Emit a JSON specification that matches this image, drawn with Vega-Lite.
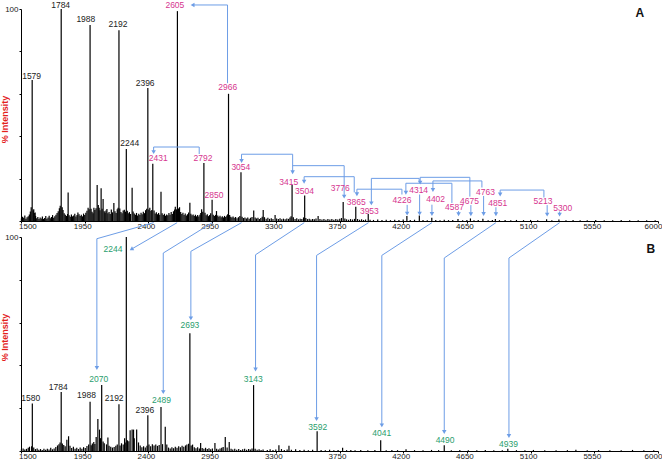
{
  "$schema": "https://vega.github.io/schema/vega-lite/v6.json",
  "padding": {"left": 0, "top": 0, "right": 0, "bottom": 0},
  "spacing": 16,
  "bounds": "flush",
  "config": {
    "view": {"stroke": null},
    "axis": {"grid": false, "domainColor": "#000", "tickColor": "#000", "labelColor": "#222", "labelFont": "Liberation Sans", "titleFont": "Liberation Sans", "labelFontSize": 8, "tickSize": 2, "labelPadding": 1},
    "text": {"font": "Liberation Sans"}
  },
  "datasets": {
    "specA": [
      {"m":1579,"i":66.5},{"m":1784,"i":100},{"m":1988,"i":92.5},{"m":2192,"i":90},{"m":2244,"i":34},{"m":2396,"i":62.7},{"m":2431,"i":27},{"m":2605,"i":99},{"m":2792,"i":27.4},{"m":2850,"i":10},{"m":2966,"i":60},{"m":3054,"i":23},{"m":3415,"i":17},{"m":3504,"i":12},{"m":3776,"i":9},{"m":3865,"i":6.7},{"m":3953,"i":3.3},{"m":4226,"i":2.4},{"m":4314,"i":2.6},{"m":4402,"i":1.5},{"m":4587,"i":1},{"m":4675,"i":1.2},{"m":4763,"i":1.1},{"m":4851,"i":1},{"m":5213,"i":0.8},{"m":5300,"i":0.7},
      {"m":1572,"i":6.5},{"m":1590,"i":5.5},{"m":1600,"i":4},{"m":1833,"i":13.5},{"m":1902,"i":4},{"m":2015,"i":6.3},{"m":2038,"i":17},{"m":2066,"i":15.4},{"m":2080,"i":10.4},{"m":2107,"i":5.7},{"m":2156,"i":8.5},{"m":2285,"i":15.7},{"m":2489,"i":13.8},{"m":2590,"i":6.7},{"m":2620,"i":6.5},{"m":2693,"i":8.6},{"m":2776,"i":5.6},{"m":2881,"i":4.7},{"m":3144,"i":4.9},{"m":3211,"i":5.2},{"m":3295,"i":2.8},{"m":3599,"i":2.4},
      {"m":1503,"i":1.2},{"m":1511,"i":2.0},{"m":1519,"i":1.5},{"m":1527,"i":2.6},{"m":1535,"i":1.1},{"m":1543,"i":1.8},{"m":1551,"i":2.2},{"m":1559,"i":3.1},{"m":1566,"i":4.5},{"m":1586,"i":5.0},{"m":1594,"i":3.8},{"m":1603,"i":2.4},{"m":1611,"i":1.3},{"m":1619,"i":1.9},{"m":1627,"i":0.9},{"m":1635,"i":1.6},{"m":1643,"i":1.2},{"m":1651,"i":2.1},{"m":1659,"i":1.0},{"m":1667,"i":1.4},{"m":1675,"i":2.3},{"m":1683,"i":1.1},{"m":1691,"i":1.7},{"m":1699,"i":2.5},{"m":1707,"i":1.3},{"m":1715,"i":1.9},{"m":1723,"i":2.8},{"m":1731,"i":1.5},{"m":1739,"i":2.2},{"m":1747,"i":3.0},{"m":1755,"i":3.8},{"m":1763,"i":4.6},{"m":1771,"i":6.0},{"m":1777,"i":7.2},{"m":1791,"i":6.5},{"m":1797,"i":5.2},{"m":1805,"i":3.6},{"m":1813,"i":2.9},{"m":1821,"i":2.4},{"m":1829,"i":3.3},{"m":1840,"i":2.7},{"m":1848,"i":2.0},{"m":1856,"i":3.1},{"m":1864,"i":2.2},{"m":1872,"i":2.6},{"m":1880,"i":3.4},{"m":1888,"i":2.1},{"m":1896,"i":2.8},{"m":1910,"i":3.2},{"m":1918,"i":2.4},{"m":1926,"i":3.0},{"m":1934,"i":2.2},{"m":1942,"i":3.5},{"m":1950,"i":2.8},{"m":1958,"i":3.9},{"m":1966,"i":4.8},{"m":1974,"i":6.2},{"m":1981,"i":5.5},{"m":1995,"i":5.8},{"m":2002,"i":4.4},{"m":2009,"i":3.7},{"m":2022,"i":5.2},{"m":2030,"i":6.0},{"m":2046,"i":7.5},{"m":2052,"i":6.2},{"m":2058,"i":5.1},{"m":2073,"i":5.8},{"m":2088,"i":4.6},{"m":2094,"i":3.9},{"m":2100,"i":5.0},{"m":2114,"i":3.6},{"m":2122,"i":4.2},{"m":2130,"i":3.3},{"m":2138,"i":5.4},{"m":2146,"i":4.1},{"m":2164,"i":4.6},{"m":2172,"i":3.8},{"m":2180,"i":5.5},{"m":2186,"i":6.3},{"m":2198,"i":5.9},{"m":2206,"i":4.3},{"m":2214,"i":3.7},{"m":2222,"i":4.9},{"m":2230,"i":5.3},{"m":2238,"i":4.4},{"m":2251,"i":4.8},{"m":2258,"i":3.6},{"m":2266,"i":4.2},{"m":2274,"i":3.3},{"m":2292,"i":4.5},{"m":2300,"i":3.5},{"m":2308,"i":2.9},{"m":2316,"i":3.8},{"m":2324,"i":2.6},{"m":2332,"i":3.4},{"m":2340,"i":2.8},{"m":2348,"i":3.9},{"m":2356,"i":3.2},{"m":2364,"i":4.4},{"m":2372,"i":3.7},{"m":2380,"i":5.1},{"m":2388,"i":5.8},{"m":2403,"i":5.4},{"m":2410,"i":6.3},{"m":2418,"i":4.7},{"m":2424,"i":5.2},{"m":2440,"i":4.9},{"m":2448,"i":3.5},{"m":2456,"i":4.1},{"m":2464,"i":3.2},{"m":2472,"i":3.8},{"m":2480,"i":2.9},{"m":2497,"i":3.6},{"m":2505,"i":2.8},{"m":2513,"i":3.4},{"m":2521,"i":2.5},{"m":2529,"i":3.1},{"m":2537,"i":2.7},{"m":2545,"i":3.8},{"m":2553,"i":3.0},{"m":2561,"i":4.2},{"m":2569,"i":3.3},{"m":2577,"i":4.6},{"m":2585,"i":5.4},{"m":2598,"i":5.5},{"m":2612,"i":5.9},{"m":2628,"i":4.2},{"m":2636,"i":3.3},{"m":2644,"i":3.9},{"m":2652,"i":2.8},{"m":2660,"i":3.5},{"m":2668,"i":2.6},{"m":2676,"i":3.2},{"m":2684,"i":4.0},{"m":2700,"i":3.4},{"m":2708,"i":2.7},{"m":2716,"i":3.1},{"m":2724,"i":2.4},{"m":2732,"i":2.9},{"m":2740,"i":2.2},{"m":2748,"i":2.8},{"m":2756,"i":2.1},{"m":2764,"i":3.0},{"m":2770,"i":3.8},{"m":2784,"i":4.4},{"m":2800,"i":3.9},{"m":2808,"i":2.7},{"m":2816,"i":3.2},{"m":2824,"i":2.3},{"m":2832,"i":2.8},{"m":2840,"i":3.6},{"m":2858,"i":3.0},{"m":2866,"i":2.4},{"m":2874,"i":2.9},{"m":2890,"i":2.6},{"m":2898,"i":2.0},{"m":2906,"i":2.5},{"m":2914,"i":1.8},{"m":2922,"i":2.2},{"m":2930,"i":1.7},{"m":2938,"i":2.4},{"m":2946,"i":1.9},{"m":2954,"i":2.6},{"m":2960,"i":3.2},{"m":2974,"i":2.8},{"m":2982,"i":2.0},{"m":2990,"i":1.6},{"m":2998,"i":2.1},
      {"m":3006,"i":1.5},{"m":3016,"i":1.9},{"m":3026,"i":1.3},{"m":3036,"i":1.8},{"m":3046,"i":2.4},{"m":3062,"i":2.0},{"m":3072,"i":1.4},{"m":3082,"i":1.7},{"m":3092,"i":1.2},{"m":3102,"i":1.6},{"m":3112,"i":1.1},{"m":3122,"i":1.5},{"m":3132,"i":1.9},{"m":3154,"i":1.6},{"m":3164,"i":1.2},{"m":3174,"i":1.5},{"m":3184,"i":1.0},{"m":3194,"i":1.4},{"m":3204,"i":2.0},{"m":3220,"i":1.8},{"m":3232,"i":1.1},{"m":3244,"i":1.5},{"m":3256,"i":1.0},{"m":3268,"i":1.3},{"m":3280,"i":0.9},{"m":3306,"i":1.2},{"m":3318,"i":0.9},{"m":3330,"i":1.3},{"m":3342,"i":0.8},{"m":3354,"i":1.1},{"m":3366,"i":0.8},{"m":3378,"i":1.2},{"m":3390,"i":1.0},{"m":3400,"i":1.6},{"m":3408,"i":2.2},{"m":3424,"i":1.8},{"m":3436,"i":1.0},{"m":3448,"i":1.3},{"m":3460,"i":0.8},{"m":3472,"i":1.1},{"m":3484,"i":0.9},{"m":3496,"i":1.7},{"m":3512,"i":1.4},{"m":3524,"i":0.9},{"m":3536,"i":1.1},{"m":3548,"i":0.7},{"m":3560,"i":1.0},{"m":3572,"i":0.8},{"m":3584,"i":1.2},{"m":3612,"i":1.0},{"m":3626,"i":0.7},{"m":3640,"i":1.0},{"m":3654,"i":0.6},{"m":3668,"i":0.9},{"m":3682,"i":0.7},{"m":3696,"i":1.0},{"m":3710,"i":0.6},{"m":3724,"i":0.9},{"m":3738,"i":0.7},{"m":3752,"i":1.1},{"m":3764,"i":1.4},{"m":3788,"i":1.2},{"m":3800,"i":0.8},{"m":3814,"i":0.6},{"m":3828,"i":0.9},{"m":3842,"i":0.7},{"m":3856,"i":1.0},{"m":3878,"i":0.9},{"m":3892,"i":0.6},{"m":3906,"i":0.8},{"m":3920,"i":0.5},{"m":3934,"i":0.7},{"m":3966,"i":0.6},{"m":3990,"i":0.5},{"m":4020,"i":0.7},{"m":4050,"i":0.5},{"m":4080,"i":0.6},{"m":4110,"i":0.4},{"m":4140,"i":0.6},{"m":4170,"i":0.5},{"m":4200,"i":0.7},{"m":4250,"i":0.5},{"m":4280,"i":0.6},{"m":4340,"i":0.5},{"m":4370,"i":0.4},{"m":4430,"i":0.5},{"m":4460,"i":0.4},{"m":4490,"i":0.6},{"m":4520,"i":0.4},{"m":4550,"i":0.5},{"m":4620,"i":0.4},{"m":4650,"i":0.5},{"m":4700,"i":0.4},{"m":4730,"i":0.5},{"m":4800,"i":0.4},{"m":4830,"i":0.5},{"m":4880,"i":0.4},{"m":4920,"i":0.5},{"m":4960,"i":0.4},{"m":5000,"i":0.5},{"m":5050,"i":0.4},{"m":5100,"i":0.5},{"m":5150,"i":0.4},{"m":5250,"i":0.4},{"m":5350,"i":0.4},{"m":5400,"i":0.5},{"m":5450,"i":0.4},{"m":5500,"i":0.4},{"m":5560,"i":0.5},{"m":5620,"i":0.4},{"m":5680,"i":0.4},{"m":5740,"i":0.5},{"m":5800,"i":0.4},{"m":5860,"i":0.4},{"m":5920,"i":0.4},{"m":5980,"i":0.4}
    ],
    "specB": [
      {"m":1580,"i":22.2},{"m":1784,"i":27.6},{"m":1988,"i":23},{"m":2070,"i":30.8},{"m":2192,"i":21.9},{"m":2244,"i":100},{"m":2396,"i":16.7},{"m":2489,"i":20.6},{"m":2693,"i":55},{"m":3143,"i":30.8},{"m":3592,"i":9.2},{"m":4041,"i":5},{"m":4490,"i":2.7},{"m":4939,"i":1},
      {"m":1824,"i":5.3},{"m":1836,"i":6.9},{"m":2031,"i":6.6},{"m":2043,"i":15},{"m":2055,"i":10},{"m":2114,"i":6.3},{"m":2232,"i":6},{"m":2271,"i":9.7},{"m":2285,"i":10},{"m":2295,"i":10},{"m":2317,"i":10},{"m":2519,"i":11.3},{"m":2769,"i":3.7},{"m":2870,"i":3.7},{"m":2928,"i":1.9},{"m":2943,"i":6.6},{"m":2971,"i":4.2},{"m":3322,"i":2.7},{"m":3393,"i":2.4},{"m":3772,"i":1.5},
      {"m":1503,"i":0.8},{"m":1515,"i":1.2},{"m":1527,"i":0.7},{"m":1539,"i":1.0},{"m":1551,"i":1.5},{"m":1560,"i":2.0},{"m":1575,"i":2.2},{"m":1590,"i":1.6},{"m":1602,"i":0.9},{"m":1614,"i":1.2},{"m":1626,"i":0.6},{"m":1638,"i":0.9},{"m":1650,"i":0.5},{"m":1662,"i":1.0},{"m":1674,"i":0.6},{"m":1686,"i":1.1},{"m":1698,"i":0.7},{"m":1710,"i":1.5},{"m":1722,"i":0.8},{"m":1734,"i":1.2},{"m":1746,"i":1.9},{"m":1758,"i":2.6},{"m":1768,"i":3.2},{"m":1776,"i":4.0},{"m":1792,"i":3.5},{"m":1802,"i":2.8},{"m":1812,"i":2.2},{"m":1846,"i":2.5},{"m":1858,"i":1.4},{"m":1870,"i":2.0},{"m":1882,"i":1.0},{"m":1894,"i":1.5},{"m":1906,"i":0.9},{"m":1918,"i":1.6},{"m":1930,"i":1.0},{"m":1942,"i":1.8},{"m":1954,"i":1.4},{"m":1966,"i":2.3},{"m":1978,"i":3.0},{"m":1996,"i":2.7},{"m":2004,"i":3.5},{"m":2014,"i":4.2},{"m":2022,"i":3.3},{"m":2062,"i":6.0},{"m":2080,"i":4.4},{"m":2088,"i":3.6},{"m":2104,"i":3.1},{"m":2122,"i":2.4},{"m":2134,"i":2.0},{"m":2146,"i":1.6},{"m":2158,"i":1.9},{"m":2170,"i":2.5},{"m":2180,"i":3.0},{"m":2200,"i":2.6},{"m":2210,"i":3.6},{"m":2222,"i":3.0},{"m":2236,"i":4.0},{"m":2252,"i":5.0},{"m":2262,"i":4.5},{"m":2300,"i":6.0},{"m":2330,"i":4.0},{"m":2342,"i":2.6},{"m":2354,"i":1.8},{"m":2366,"i":2.2},{"m":2378,"i":1.6},{"m":2390,"i":2.4},{"m":2404,"i":3.0},{"m":2416,"i":2.2},{"m":2428,"i":3.2},{"m":2440,"i":2.6},{"m":2452,"i":3.0},{"m":2464,"i":2.4},{"m":2476,"i":2.8},{"m":2500,"i":3.2},{"m":2530,"i":3.0},{"m":2542,"i":1.6},{"m":2554,"i":1.2},{"m":2566,"i":1.8},{"m":2578,"i":1.3},{"m":2590,"i":2.0},{"m":2602,"i":1.5},{"m":2614,"i":2.2},{"m":2626,"i":1.7},{"m":2638,"i":2.4},{"m":2650,"i":2.0},{"m":2662,"i":2.6},{"m":2672,"i":3.0},{"m":2684,"i":3.4},{"m":2702,"i":2.6},{"m":2712,"i":3.0},{"m":2724,"i":1.8},{"m":2736,"i":1.3},{"m":2748,"i":1.7},{"m":2760,"i":1.2},{"m":2780,"i":1.4},{"m":2792,"i":1.0},{"m":2804,"i":1.5},{"m":2816,"i":0.9},{"m":2828,"i":1.3},{"m":2840,"i":0.8},{"m":2852,"i":1.2},{"m":2882,"i":1.0},{"m":2894,"i":0.7},{"m":2906,"i":1.2},{"m":2918,"i":1.5},{"m":2956,"i":1.6},{"m":2984,"i":1.0},{"m":2996,"i":0.7},{"m":3010,"i":1.0},{"m":3024,"i":0.6},{"m":3038,"i":0.9},{"m":3052,"i":0.5},{"m":3066,"i":0.8},{"m":3080,"i":1.0},{"m":3094,"i":0.6},{"m":3108,"i":0.9},{"m":3120,"i":0.7},{"m":3132,"i":1.2},{"m":3154,"i":1.0},{"m":3168,"i":0.6},{"m":3182,"i":0.8},{"m":3196,"i":0.5},{"m":3210,"i":0.7},{"m":3240,"i":0.5},{"m":3260,"i":0.8},{"m":3280,"i":0.5},{"m":3300,"i":0.7},{"m":3340,"i":0.9},{"m":3360,"i":0.5},{"m":3380,"i":0.7},{"m":3410,"i":0.6},{"m":3440,"i":0.8},{"m":3470,"i":0.5},{"m":3500,"i":0.6},{"m":3530,"i":0.4},{"m":3560,"i":0.6},{"m":3620,"i":0.5},{"m":3650,"i":0.4},{"m":3680,"i":0.6},{"m":3710,"i":0.4},{"m":3740,"i":0.5},{"m":3800,"i":0.4},{"m":3830,"i":0.5},{"m":3860,"i":0.4},{"m":3900,"i":0.5},{"m":3950,"i":0.4},{"m":4000,"i":0.5},{"m":4080,"i":0.4},{"m":4120,"i":0.5},{"m":4160,"i":0.4},{"m":4220,"i":0.8},{"m":4280,"i":0.4},{"m":4340,"i":0.4},{"m":4400,"i":0.5},{"m":4450,"i":0.4},{"m":4540,"i":0.4},{"m":4600,"i":0.5},{"m":4660,"i":0.4},{"m":4720,"i":0.4},{"m":4780,"i":0.5},{"m":4840,"i":0.4},{"m":4900,"i":0.4},{"m":5000,"i":0.4},{"m":5060,"i":0.4},{"m":5120,"i":0.5},{"m":5200,"i":0.4},{"m":5280,"i":0.4},{"m":5360,"i":0.4},{"m":5420,"i":0.6},{"m":5500,"i":0.4},{"m":5580,"i":0.4},{"m":5660,"i":0.4},{"m":5740,"i":0.4},{"m":5820,"i":0.5},{"m":5900,"i":0.4},{"m":5970,"i":0.4}
    ],
    "labA_black": [
      {"t":"1579","x":1575,"y":68.4},{"t":"1784","x":1780,"y":101.8},{"t":"1988","x":1958,"y":95.1},{"t":"2192","x":2185,"y":92.9},{"t":"2396","x":2377,"y":65.2},{"t":"2244","x":2268,"y":36.7}
    ],
    "labA_pink": [
      {"t":"2431","x":2469,"y":29.6},{"t":"2605","x":2587,"y":102},{"t":"2792","x":2785,"y":29.6},{"t":"2850","x":2863,"y":12.3},{"t":"2966","x":2960,"y":63.1},{"t":"3054","x":3053,"y":25.3},{"t":"3415","x":3392,"y":18.5},{"t":"3504","x":3503,"y":14.3},{"t":"3776","x":3755,"y":15.4},{"t":"3865","x":3868,"y":8.8},{"t":"3953","x":3961,"y":4.6},{"t":"4226","x":4192,"y":9.9},{"t":"4314","x":4309,"y":14.6},{"t":"4402","x":4429,"y":10.2},{"t":"4587","x":4562,"y":6.5},{"t":"4675","x":4668,"y":9.3},{"t":"4763","x":4781,"y":13.7},{"t":"4851","x":4868,"y":8.3},{"t":"5213","x":5187,"y":9.3},{"t":"5300","x":5327,"y":6.2}
    ],
    "labB_black": [
      {"t":"1580","x":1569,"y":24.6},{"t":"1784","x":1763,"y":29.7},{"t":"1988","x":1962,"y":26},{"t":"2192","x":2158,"y":24.6},{"t":"2396","x":2375,"y":19.1}
    ],
    "labB_green": [
      {"t":"2244","x":2150,"y":94.5},{"t":"2070","x":2049,"y":33.6},{"t":"2489","x":2493,"y":23.8},{"t":"2693","x":2693,"y":58.9},{"t":"3143","x":3140,"y":33.6},{"t":"3592","x":3596,"y":11.2},{"t":"4041","x":4048,"y":8.2},{"t":"4490","x":4496,"y":5},{"t":"4939","x":4944,"y":3.5}
    ],
    "segA": [
      {"x1":2959,"y1":65,"x2":2959,"y2":101.9},{"x1":2959,"y1":101.9,"x2":2716,"y2":101.9},
      {"x1":2759,"y1":31.6,"x2":2759,"y2":34.9},{"x1":2759,"y1":34.9,"x2":2437,"y2":34.9},{"x1":2437,"y1":34.9,"x2":2437,"y2":32.5},
      {"x1":3058,"y1":31.5,"x2":3419,"y2":31.5},{"x1":3058,"y1":31.5,"x2":3058,"y2":28.3},{"x1":3419,"y1":31.5,"x2":3419,"y2":23},{"x1":3419,"y1":26.1,"x2":3783,"y2":26.1},{"x1":3783,"y1":26.1,"x2":3783,"y2":11.5},
      {"x1":3500,"y1":20.9,"x2":3854,"y2":20.9},{"x1":3500,"y1":20.9,"x2":3500,"y2":18.5},{"x1":3854,"y1":20.9,"x2":3854,"y2":13.5},
      {"x1":3873,"y1":15,"x2":4191,"y2":15},{"x1":3873,"y1":15,"x2":3873,"y2":12.6},{"x1":4191,"y1":15,"x2":4191,"y2":12.5},
      {"x1":3975,"y1":20.1,"x2":4313,"y2":20.1},{"x1":3975,"y1":20.1,"x2":3975,"y2":8.3},{"x1":4313,"y1":20.1,"x2":4313,"y2":18.1},
      {"x1":4219,"y1":17.8,"x2":4544,"y2":17.8},{"x1":4219,"y1":17.8,"x2":4219,"y2":13.3},{"x1":4544,"y1":17.8,"x2":4544,"y2":8.5},
      {"x1":4320,"y1":20.6,"x2":4671,"y2":20.6},{"x1":4320,"y1":20.6,"x2":4320,"y2":18.1},{"x1":4671,"y1":20.6,"x2":4671,"y2":11.5},
      {"x1":4410,"y1":18.9,"x2":4756,"y2":18.9},{"x1":4410,"y1":18.9,"x2":4410,"y2":14.6},{"x1":4756,"y1":18.9,"x2":4756,"y2":15.8},
      {"x1":4885,"y1":14.6,"x2":5194,"y2":14.6},{"x1":4885,"y1":14.6,"x2":4885,"y2":12.5},{"x1":5194,"y1":14.6,"x2":5194,"y2":11.1},
      {"x1":4228,"y1":7.6,"x2":4228,"y2":3.5},{"x1":4316,"y1":12.5,"x2":4316,"y2":3.5},{"x1":4403,"y1":7.7,"x2":4403,"y2":3.3},{"x1":4591,"y1":4.7,"x2":4591,"y2":3.2},{"x1":4678,"y1":7.5,"x2":4678,"y2":3.2},{"x1":4768,"y1":11.8,"x2":4768,"y2":3.3},{"x1":4855,"y1":6.5,"x2":4855,"y2":3.2},{"x1":5217,"y1":7.5,"x2":5217,"y2":3.0},{"x1":5305,"y1":4.5,"x2":5305,"y2":3.0}
    ],
    "arrA_down": [
      {"x":2437,"y":32.5},{"x":3058,"y":28.3},{"x":3419,"y":23},{"x":3783,"y":11.5},{"x":3500,"y":18.5},{"x":3873,"y":12.6},{"x":3975,"y":8.3},{"x":4219,"y":13.3},{"x":4320,"y":18.1},{"x":4410,"y":14.6},{"x":4885,"y":12.5},
      {"x":4228,"y":3.5},{"x":4316,"y":3.5},{"x":4403,"y":3.3},{"x":4591,"y":3.2},{"x":4678,"y":3.2},{"x":4768,"y":3.3},{"x":4855,"y":3.2},{"x":5217,"y":3.0},{"x":5305,"y":3.0}
    ],
    "arrA_left": [{"x":2712,"y":101.9}],
    "segB": [
      {"x1":2437,"y1":106.7,"x2":2036,"y2":99.2},{"x1":2036,"y1":99.2,"x2":2036,"y2":38.8},
      {"x1":2603,"y1":106.7,"x2":2280,"y2":94.3},
      {"x1":2851,"y1":106.7,"x2":2505,"y2":92.5},{"x1":2505,"y1":92.5,"x2":2505,"y2":27.5},
      {"x1":3058,"y1":106.7,"x2":2700,"y2":93.3},{"x1":2700,"y1":93.3,"x2":2700,"y2":62},
      {"x1":3501,"y1":106.7,"x2":3157,"y2":91.7},{"x1":3157,"y1":91.7,"x2":3157,"y2":38.1},
      {"x1":3955,"y1":106.7,"x2":3588,"y2":91.4},{"x1":3588,"y1":91.4,"x2":3588,"y2":14.9},
      {"x1":4403,"y1":106.7,"x2":4049,"y2":91.4},{"x1":4049,"y1":91.4,"x2":4049,"y2":12},
      {"x1":4855,"y1":106.7,"x2":4490,"y2":90.2},{"x1":4490,"y1":90.2,"x2":4490,"y2":8.9},
      {"x1":5305,"y1":106.7,"x2":4947,"y2":90.2},{"x1":4947,"y1":90.2,"x2":4947,"y2":7}
    ],
    "arrB_down": [
      {"x":2036,"y":38.8},{"x":2505,"y":27.5},{"x":2700,"y":62},{"x":3157,"y":38.1},{"x":3588,"y":14.9},{"x":4049,"y":12},{"x":4490,"y":8.9},{"x":4947,"y":7}
    ],
    "arrB_diag": [{"x":2280,"y":94.3}],
    "panelA": [{"t":"A","x":5872,"y":98.3}],
    "panelB": [{"t":"B","x":5950,"y":94.5}]
  },
  "vconcat": [
    {
      "width": 637,
      "height": 212,
      "layer": [
        {
          "data": {"name": "specA"},
          "mark": {"type": "rule", "color": "#000", "strokeWidth": 1.2},
          "encoding": {
            "x": {"field": "m", "type": "quantitative", "title": null,
                  "scale": {"domain": [1500, 6000], "nice": false, "zero": false},
                  "axis": {"values": [1500,1950,2400,2850,3300,3750,4200,4650,5100,5550,6000], "format": "d", "labelExpr": "datum.value == 2850 ? '2950' : datum.label", "labelFlush": false, "labelBaseline": "middle", "labelPadding": 3.5, "labelOffset": {"condition": {"test": "datum.value == 6000", "value": -5}, "value": -2.5}, "labelAlign": {"condition": {"test": "datum.value == 1500", "value": "left"}, "value": "center"}}},
            "y": {"field": "i", "type": "quantitative", "title": "% Intensity",
                  "scale": {"domain": [0, 100], "nice": false},
                  "axis": {"values": [0,10,20,30,40,50,60,70,80,90,100], "labelExpr": "datum.value == 50 || datum.value == 100 ? datum.label : ''", "titleFontSize": 9, "titleFontWeight": "bold", "titleColor": "#e3211c", "titleX": -12, "titleY": 110}},
            "y2": {"datum": 0}
          }
        },
        {
          "data": {"name": "segA"},
          "mark": {"type": "rule", "color": "#6d9de6", "strokeWidth": 1},
          "encoding": {
            "x": {"field": "x1", "type": "quantitative", "title": null},
            "x2": {"field": "x2"},
            "y": {"field": "y1", "type": "quantitative", "title": "% Intensity"},
            "y2": {"field": "y2"}
          }
        },
        {
          "data": {"name": "arrA_down"},
          "mark": {"type": "point", "shape": "triangle-down", "filled": true, "size": 20, "color": "#6d9de6", "opacity": 1, "strokeWidth": 0},
          "encoding": {
            "x": {"field": "x", "type": "quantitative", "title": null},
            "y": {"field": "y", "type": "quantitative", "title": "% Intensity"}
          }
        },
        {
          "data": {"name": "arrA_left"},
          "mark": {"type": "point", "shape": "triangle-left", "filled": true, "size": 20, "color": "#6d9de6", "opacity": 1, "strokeWidth": 0},
          "encoding": {
            "x": {"field": "x", "type": "quantitative", "title": null},
            "y": {"field": "y", "type": "quantitative", "title": "% Intensity"}
          }
        },
        {
          "data": {"name": "labA_black"},
          "mark": {"type": "text", "fontSize": 8.5, "color": "#222", "align": "center", "baseline": "middle"},
          "encoding": {
            "x": {"field": "x", "type": "quantitative", "title": null},
            "y": {"field": "y", "type": "quantitative", "title": "% Intensity"},
            "text": {"field": "t"}
          }
        },
        {
          "data": {"name": "labA_pink"},
          "mark": {"type": "text", "fontSize": 8.5, "color": "#d6368f", "align": "center", "baseline": "middle"},
          "encoding": {
            "x": {"field": "x", "type": "quantitative", "title": null},
            "y": {"field": "y", "type": "quantitative", "title": "% Intensity"},
            "text": {"field": "t"}
          }
        },
        {
          "data": {"name": "panelA"},
          "mark": {"type": "text", "fontSize": 12, "fontWeight": "bold", "color": "#111", "align": "center", "baseline": "middle"},
          "encoding": {
            "x": {"field": "x", "type": "quantitative", "title": null},
            "y": {"field": "y", "type": "quantitative", "title": "% Intensity"},
            "text": {"field": "t"}
          }
        }
      ]
    },
    {
      "width": 637,
      "height": 214,
      "layer": [
        {
          "data": {"name": "specB"},
          "mark": {"type": "rule", "color": "#000", "strokeWidth": 1.2},
          "encoding": {
            "x": {"field": "m", "type": "quantitative", "title": null,
                  "scale": {"domain": [1500, 6000], "nice": false, "zero": false},
                  "axis": {"values": [1500,1950,2400,2850,3300,3750,4200,4650,5100,5550,6000], "format": "d", "labelExpr": "datum.value == 2850 ? '2950' : datum.label", "labelFlush": false, "labelBaseline": "middle", "labelPadding": 3.5, "labelOffset": {"condition": {"test": "datum.value == 6000", "value": -5}, "value": -2.5}, "labelAlign": {"condition": {"test": "datum.value == 1500", "value": "left"}, "value": "center"}}},
            "y": {"field": "i", "type": "quantitative", "title": "% Intensity",
                  "scale": {"domain": [0, 100], "nice": false},
                  "axis": {"values": [0,10,20,30,40,50,60,70,80,90,100], "labelExpr": "datum.value == 50 || datum.value == 100 ? datum.label : ''", "titleFontSize": 9, "titleFontWeight": "bold", "titleColor": "#e3211c", "titleX": -12, "titleY": 100}},
            "y2": {"datum": 0}
          }
        },
        {
          "data": {"name": "segB"},
          "mark": {"type": "rule", "color": "#6d9de6", "strokeWidth": 1},
          "encoding": {
            "x": {"field": "x1", "type": "quantitative", "title": null},
            "x2": {"field": "x2"},
            "y": {"field": "y1", "type": "quantitative", "title": "% Intensity"},
            "y2": {"field": "y2"}
          }
        },
        {
          "data": {"name": "arrB_down"},
          "mark": {"type": "point", "shape": "triangle-down", "filled": true, "size": 20, "color": "#6d9de6", "opacity": 1, "strokeWidth": 0},
          "encoding": {
            "x": {"field": "x", "type": "quantitative", "title": null},
            "y": {"field": "y", "type": "quantitative", "title": "% Intensity"}
          }
        },
        {
          "data": {"name": "arrB_diag"},
          "mark": {"type": "point", "shape": "triangle-up", "angle": 240, "filled": true, "size": 20, "color": "#6d9de6", "opacity": 1, "strokeWidth": 0},
          "encoding": {
            "x": {"field": "x", "type": "quantitative", "title": null},
            "y": {"field": "y", "type": "quantitative", "title": "% Intensity"}
          }
        },
        {
          "data": {"name": "labB_black"},
          "mark": {"type": "text", "fontSize": 8.5, "color": "#222", "align": "center", "baseline": "middle"},
          "encoding": {
            "x": {"field": "x", "type": "quantitative", "title": null},
            "y": {"field": "y", "type": "quantitative", "title": "% Intensity"},
            "text": {"field": "t"}
          }
        },
        {
          "data": {"name": "labB_green"},
          "mark": {"type": "text", "fontSize": 8.5, "color": "#2a9e6e", "align": "center", "baseline": "middle"},
          "encoding": {
            "x": {"field": "x", "type": "quantitative", "title": null},
            "y": {"field": "y", "type": "quantitative", "title": "% Intensity"},
            "text": {"field": "t"}
          }
        },
        {
          "data": {"name": "panelB"},
          "mark": {"type": "text", "fontSize": 12, "fontWeight": "bold", "color": "#111", "align": "center", "baseline": "middle"},
          "encoding": {
            "x": {"field": "x", "type": "quantitative", "title": null},
            "y": {"field": "y", "type": "quantitative", "title": "% Intensity"},
            "text": {"field": "t"}
          }
        }
      ]
    }
  ]
}
